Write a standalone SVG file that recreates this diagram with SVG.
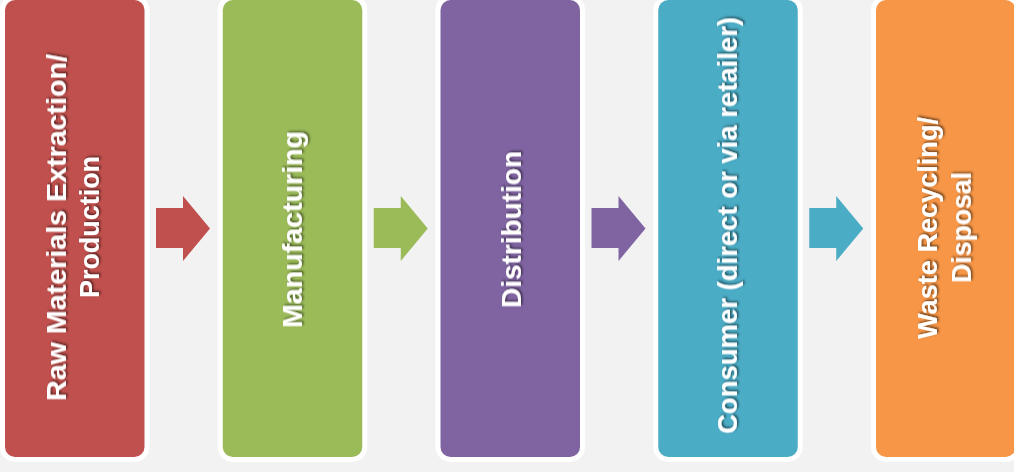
<svg xmlns="http://www.w3.org/2000/svg" width="1014" height="472" viewBox="0 0 1014 472">
  <defs>
    <filter id="ts" x="-10%" y="-10%" width="130%" height="130%">
      <feDropShadow dx="1.5" dy="1.5" stdDeviation="1" flood-color="#000" flood-opacity="0.55"/>
    </filter>
    <style>
      .box { stroke: #ffffff; stroke-width: 10; paint-order: stroke; }
      .lbl { font-family: "Liberation Sans", Arial, sans-serif; font-weight: bold; font-size: 28px; fill: #ffffff; text-anchor: middle; filter: url(#ts); }
    </style>
  </defs>
  <rect width="1014" height="472" fill="#f2f2f2"/>

  <g id="connectors">
    <polygon points="156,208 183,208 183,196 210,228.5 183,261 183,248 156,248" fill="#c0504d"/>
    <polygon points="373.75,208 400.75,208 400.75,196 427.75,228.5 400.75,261 400.75,248 373.75,248" fill="#9bbb59"/>
    <polygon points="591.5,208 618.5,208 618.5,196 645.5,228.5 618.5,261 618.5,248 591.5,248" fill="#8064a2"/>
    <polygon points="809.25,208 836.25,208 836.25,196 863.25,228.5 836.25,261 836.25,248 809.25,248" fill="#4bacc6"/>
  </g>

  <g id="node1">
    <rect class="box" x="5" y="0" width="139.5" height="457" rx="10" fill="#c0504d"/>
    <text class="lbl" transform="translate(66,227.5) rotate(-90)" textLength="347" lengthAdjust="spacingAndGlyphs">Raw Materials Extraction/</text>
    <text class="lbl" transform="translate(99,227) rotate(-90)" textLength="142" lengthAdjust="spacingAndGlyphs">Production</text>
  </g>

  <g id="node2">
    <rect class="box" x="222.75" y="0" width="139.5" height="457" rx="10" fill="#9bbb59"/>
    <text class="lbl" transform="translate(302,229.5) rotate(-90)" textLength="197" lengthAdjust="spacingAndGlyphs">Manufacturing</text>
  </g>

  <g id="node3">
    <rect class="box" x="440.5" y="0" width="139.5" height="457" rx="10" fill="#8064a2"/>
    <text class="lbl" transform="translate(521,229.5) rotate(-90)" textLength="157" lengthAdjust="spacingAndGlyphs">Distribution</text>
  </g>

  <g id="node4">
    <rect class="box" x="658.25" y="0" width="139.5" height="457" rx="10" fill="#4bacc6"/>
    <text class="lbl" transform="translate(737,225.5) rotate(-90)" textLength="417" lengthAdjust="spacingAndGlyphs">Consumer (direct or via retailer)</text>
  </g>

  <g id="node5">
    <rect class="box" x="876" y="0" width="139.5" height="457" rx="10" fill="#f79646"/>
    <text class="lbl" transform="translate(937,228) rotate(-90)" textLength="222" lengthAdjust="spacingAndGlyphs">Waste Recycling/</text>
    <text class="lbl" transform="translate(971,227.5) rotate(-90)" textLength="111" lengthAdjust="spacingAndGlyphs">Disposal</text>
  </g>
</svg>
